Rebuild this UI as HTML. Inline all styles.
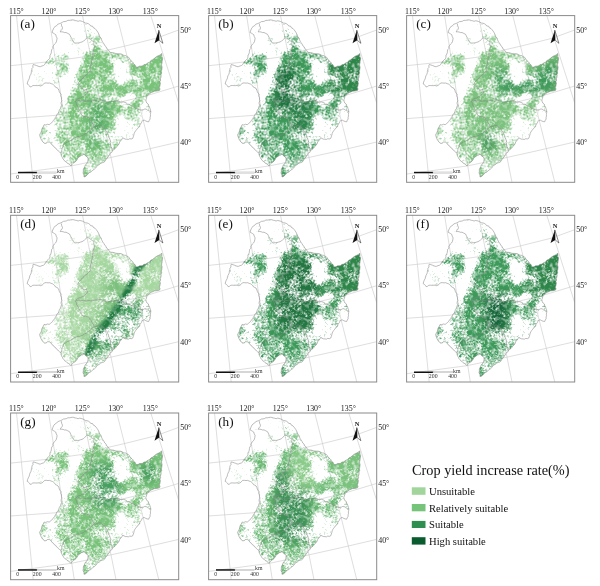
<!DOCTYPE html>
<html><head><meta charset="utf-8"><style>
html,body{margin:0;padding:0;background:#fff;width:600px;height:586px;overflow:hidden}
svg{display:block;will-change:transform}
</style></head><body>
<svg width="600" height="586" viewBox="0 0 600 586">
<defs><path id="ol" d="M52.80,30.20 L53.38,28.91 L53.97,27.62 L55,26.60 L56.52,25.76 L57.63,24.31 L59.30,23.70 L60.76,23.18 L62.15,22.47 L63.49,21.64 L65.10,21.50 L66.55,21.16 L67.89,20.35 L69.43,20.39 L70.90,20.10 L72.40,19.85 L73.85,20.04 L75.26,20.55 L76.70,20.80 L78.11,21.30 L79.65,20.78 L81.08,21.05 L82.50,21.50 L83.90,22.17 L85.24,23.02 L86.82,23.22 L88.30,23.70 L89.70,24.58 L90.70,26.01 L92.58,26.21 L93.45,27.83 L95,28.50 L96.06,29.75 L97.06,31.03 L97.96,32.37 L98.68,33.84 L99.40,35.30 L99.84,36.90 L101.13,38.08 L101.49,39.72 L102.16,41.20 L103,42.60 L104.01,43.98 L104.76,45.53 L106.07,46.72 L106.60,48.40 L107.91,49.32 L108.76,50.62 L109.50,52 L110.91,52.53 L112.42,52.63 L113.89,52.87 L115.30,53.40 L116.91,53.68 L118.56,53.75 L120.20,53.80 L121.80,54.20 L123,55.05 L124.36,55.54 L125.86,55.71 L127.05,56.59 L128.40,57.10 L129.28,58.19 L129.91,59.49 L130.92,60.47 L132,61.40 L133.03,62.43 L133.33,64.01 L134.89,64.65 L135.51,65.99 L136.30,67.20 L138,67.10 L139.53,66.16 L141.25,66.14 L142.90,65.80 L143.86,64.67 L145.39,64.48 L146.64,63.83 L147.74,62.93 L149.10,62.45 L150.10,61.40 L151.15,60.39 L152.54,59.84 L153.64,58.90 L154.79,58.02 L155.90,57.10 L157.33,56.14 L158.98,55.54 L160.49,54.70 L161.70,53.40 L161.90,55.05 L161.89,56.72 L162.66,58.30 L162.40,60 L162.10,61.43 L162.05,62.88 L161.61,64.29 L161.68,65.75 L162.11,67.23 L161.91,68.67 L161.70,70.10 L161.30,71.52 L161.70,73.08 L161.04,74.46 L161.09,75.95 L160.91,77.41 L160.30,78.80 L160.64,80.28 L159.83,81.68 L160.37,83.18 L160.15,84.62 L159.91,86.06 L159.33,87.47 L160.02,88.98 L159.50,90.40 L157.89,90.82 L156.24,91.10 L154.54,91.15 L153,91.90 L151.38,92.53 L149.91,93.39 L148.77,94.79 L147.20,95.50 L146.81,97.03 L146.40,98.54 L145.80,100 L146.18,101.62 L146.84,103.10 L148.29,104.19 L148.70,105.80 L149.53,107.14 L150,108.61 L150.53,110.06 L150.80,111.60 L150.64,113.05 L150.36,114.49 L150.51,115.98 L150.10,117.40 L150.11,119.02 L149.24,120.36 L148.70,121.80 L147.22,121.55 L145.82,120.99 L144.46,120.24 L142.90,120.30 L142,121.42 L141.42,122.73 L140.60,123.89 L139.82,125.08 L139.62,126.61 L138.50,127.60 L137.32,128.52 L136.56,129.75 L135.62,130.86 L134.82,132.06 L134.20,133.40 L133.80,135.10 L133.30,136.76 L132.70,138.40 L131.30,138.99 L129.78,138.67 L128.41,139.43 L126.90,139.20 L125.32,139.11 L123.94,138.47 L122.60,137.70 L121.91,139.32 L120.80,140.66 L119.70,142 L119.11,143.71 L118.18,145.21 L116.80,146.40 L115.95,147.75 L114.88,148.88 L113.60,149.80 L112.40,150.80 L111.90,152.25 L110.34,152.89 L109.67,154.21 L109.16,155.65 L108,156.60 L107.34,157.91 L106.40,159.01 L105.53,160.16 L104.86,161.46 L103.70,162.40 L102.09,162.81 L100.58,163.41 L99.37,164.61 L97.90,165.30 L96.69,166.49 L95.74,167.95 L94.50,169.11 L93,170 L91.85,171.12 L90.65,172.18 L89.04,172.74 L88,174 L86.87,175.27 L85.62,176.38 L84,177 L83.94,174.89 L83,173 L83.36,171.34 L83.32,169.60 L84,168 L84.79,166.77 L85.09,165.26 L86.27,164.26 L87,163 L87.80,161.43 L88.02,159.74 L88,158 L87.14,156.86 L85.83,156.17 L84.91,155.09 L84,154 L82.92,155.04 L81.36,155.27 L80.23,156.22 L79,157 L77.78,158.08 L77.13,159.61 L76.22,160.92 L75,162 L73.78,162.78 L72.66,163.66 L71.75,164.75 L71,166 L69.85,164.76 L68.52,163.75 L67,163 L66.17,161.83 L64.81,161.19 L64.01,159.99 L63,159 L62.36,157.55 L61.55,156.15 L61.05,154.65 L61,153 L59.71,152.25 L58.55,151.34 L57.67,150.07 L56.40,149.30 L55.62,147.90 L54.16,147.19 L53.41,145.76 L52,145 L50.96,143.17 L49.20,142 L47.59,142.07 L46.31,143.13 L44.80,143.50 L43.15,142.25 L41.90,140.60 L41.09,139.25 L40.52,137.81 L39.97,136.35 L39.70,134.80 L40.37,133.39 L41.17,132.04 L41.67,130.57 L41.90,129 L42.62,127.56 L43.50,126.20 L44.10,124.70 L45.80,125 L47.50,124.28 L49.20,124.70 L50.39,123.71 L51.64,122.79 L52.63,121.60 L53.50,120.30 L54.67,119.01 L55.42,117.42 L56.40,116 L56.95,114.37 L58.32,113.21 L58.90,111.60 L59.45,109.84 L60.58,108.31 L61,106.50 L61.57,105.09 L61.10,103.61 L61.20,102.17 L61.85,100.77 L61.50,99.30 L61.56,97.58 L60.84,95.93 L61,94.20 L59.97,93 L59.29,91.63 L58.90,90.10 L58.16,88.79 L57.07,87.83 L55.57,87.28 L54.80,86 L53.69,84.97 L52.49,84.09 L51.05,83.61 L49.70,83 L48,83.15 L46.30,82.95 L44.60,83 L43.45,84.30 L42.15,85.39 L40.50,86 L38.99,85.41 L37.41,85.60 L35.85,85.60 L34.30,85.50 L32.78,85.59 L31.59,86.56 L30.20,87 L29.46,85.74 L28.43,84.77 L27.20,84 L27.60,82.16 L28.30,80.44 L29.20,78.80 L29.53,77.21 L30,75.67 L30.86,74.25 L31.30,72.70 L31.40,71.28 L31.89,69.95 L31.94,68.51 L33.03,67.33 L32.82,65.83 L33.30,64.50 L34.86,64.96 L36.40,65.50 L37.75,65.95 L39.03,66.62 L40.50,66.60 L41.97,65.98 L43.50,65.50 L44.87,64.39 L45.57,62.77 L46.60,61.40 L48.07,59.97 L49.50,58.50 L49.97,57.06 L49.94,55.46 L50.79,54.13 L51.30,52.70 L51.44,51.17 L51.71,49.68 L52.91,48.47 L52.75,46.84 L53.50,45.50 L54.45,44.25 L55.61,43.17 L56.40,41.80 L56.81,40.01 L57.10,38.20 L56.24,36.46 L55.70,34.60 L54.48,33.85 L53.26,33.09 L52,32.40Z"/><clipPath id="clip"><use href="#ol"/></clipPath><clipPath id="fr"><rect x="10.6" y="15.6" width="168.1" height="166.7"/></clipPath><g id="densBase"><rect x="10" y="15" width="170" height="170" fill="#000"/><path d="M40,20 L165,20 L165,180 L40,180Z" fill="rgb(8,8,8)"/><path d="M84,30 L95,29 L100,37 L105,46 L100,50 L86,48Z" fill="rgb(31,31,31)"/><path d="M49,54 L56,51 L63,53 L68,58 L70,66 L67,72 L61,72 L59,78 L60,87 L56,87 L54,77 L51,68 L47,60Z" fill="rgb(107,107,107)"/><path d="M56,55 L64,56 L67,63 L65,70 L59,69 L56,62Z" fill="rgb(158,158,158)"/><path d="M38,126 L46,121 L52,118 L58,152 L50,145 L44,144 L38,136Z" fill="rgb(56,56,56)"/><path d="M55,121 L58,116 L62,109 L68,104 L74,112 L80,126 L90,136 L96,148 L92,156 L84,155 L79,158 L75,163 L71,167 L66,164 L62,159 L60,153 L57,148 L55,141Z" fill="rgb(112,112,112)"/><path d="M82,134 L96,136 L100,150 L92,156 L84,150Z" fill="rgb(204,204,204)"/><path d="M64,128 L82,124 L88,132 L84,138 L70,138Z" fill="rgb(148,148,148)"/><path d="M106,56 L128,58 L132,64 L132,80 L130,94 L118,96 L116,80 L112,64Z" fill="rgb(15,15,15)"/><path d="M100,48 L115,50 L128,54 L134,62 L122,60 L110,58Z" fill="rgb(128,128,128)"/><path d="M116,92 L132,92 L146,96 L150,106 L148,114 L140,118 L128,112 L120,104Z" fill="rgb(46,46,46)"/><path d="M96,128 L110,128 L118,132 L124,138 L118,146 L110,154 L104,160 L98,163 L96,150Z" fill="rgb(82,82,82)"/><path d="M90,48 L96,47 L102,49 L107,52 L111,60 L113,70 L116,82 L117,90 L116,97 L122,102 L124,108 L118,114 L114,124 L112,134 L104,140 L98,146 L96,152 L88,154 L80,150 L74,140 L70,130 L65,121 L68,108 L71,97 L74,86 L76,76 L81,64 L85,55Z" fill="rgb(204,204,204)"/><path d="M90,55 L100,54 L106,57 L109,66 L108,80 L104,84 L96,80 L88,78 L82,76 L82,62Z" fill="rgb(235,235,235)"/><path d="M76,78 L90,80 L92,100 L88,110 L78,108 L74,96Z" fill="rgb(224,224,224)"/><path d="M100,84 L112,82 L116,96 L112,122 L102,128 L94,120 L96,100Z" fill="rgb(235,235,235)"/><path d="M88,80 L101,80 L103,90 L101,98 L90,97 L87,88Z" fill="rgb(89,89,89)"/><path d="M82,132 L96,132 L100,140 L98,154 L90,156 L84,152Z" fill="rgb(209,209,209)"/><path d="M80,151 L92,153 L104,154 L113,154 L112,160 L104,168 L94,176 L86,182 L79,178 L80,166Z" fill="rgb(158,158,158)"/><path d="M131,62 L136,64 L142,62 L150,57 L156,53 L164,49 L166,60 L165,72 L163,80 L163,94 L153,95 L147,98 L140,96 L133,94 L130,84 L130,72Z" fill="rgb(235,235,235)"/><path d="M105.12,104 L113.43,100.86 L121.89,95.58 L129.26,89.26 L135.44,82.07 L140.46,76.05 L135.54,71.95 L130.56,77.93 L124.74,84.74 L118.11,90.42 L110.57,95.14 L102.88,98Z" fill="rgb(199,199,199)"/><path d="M136,79 L151,78 L152,85 L140,86Z" fill="rgb(128,128,128)"/><path d="M154,70 L161,70 L161,79 L155,79Z" fill="rgb(128,128,128)"/><path d="M138.50,105.50 L137.64,108.15 L135.39,109.78 L132.61,109.78 L130.36,108.15 L129.50,105.50 L130.36,102.85 L132.61,101.22 L135.39,101.22 L137.64,102.85Z" fill="rgb(217,217,217)"/><path d="M132.50,116.50 L131.83,118.56 L130.08,119.83 L127.92,119.83 L126.17,118.56 L125.50,116.50 L126.17,114.44 L127.92,113.17 L130.08,113.17 L131.83,114.44Z" fill="rgb(204,204,204)"/><path d="M142.50,122 L141.83,124.06 L140.08,125.33 L137.92,125.33 L136.17,124.06 L135.50,122 L136.17,119.94 L137.92,118.67 L140.08,118.67 L141.83,119.94Z" fill="rgb(204,204,204)"/><path d="M152,106.50 L151.43,108.26 L149.93,109.35 L148.07,109.35 L146.57,108.26 L146,106.50 L146.57,104.74 L148.07,103.65 L149.93,103.65 L151.43,104.74Z" fill="rgb(178,178,178)"/><path d="M133.50,126 L133.02,127.47 L131.77,128.38 L130.23,128.38 L128.98,127.47 L128.50,126 L128.98,124.53 L130.23,123.62 L131.77,123.62 L133.02,124.53Z" fill="rgb(178,178,178)"/></g><filter id="dith" filterUnits="userSpaceOnUse" x="10" y="15" width="170" height="170" color-interpolation-filters="sRGB">
<feGaussianBlur in="SourceGraphic" stdDeviation="2.2" result="bl"/>
<feComponentTransfer in="bl" result="bl2"><feFuncR type="table" tableValues="0.000 0.317 0.435 0.495 0.577 0.643 0.695 0.767 0.833 0.940 1.000"/></feComponentTransfer>
<feColorMatrix in="bl2" type="matrix" values="0 0 0 0 0  0 0 0 0 0  0 0 0 0 0  1.15 0 0 0 -0.12" result="da"/>
<feTurbulence type="fractalNoise" baseFrequency="0.085" numOctaves="3" seed="5" result="n1"/>
<feTurbulence type="fractalNoise" baseFrequency="0.5" numOctaves="2" seed="9" result="n2"/>
<feColorMatrix in="n1" type="matrix" values="0 0 0 0 0  0 0 0 0 0  0 0 0 0 0  1 0 0 0 0" result="a1"/>
<feColorMatrix in="n2" type="matrix" values="0 0 0 0 0  0 0 0 0 0  0 0 0 0 0  1 0 0 0 0" result="a2"/>
<feComposite in="a1" in2="a2" operator="arithmetic" k1="0" k2="1.4" k3="1.25" k4="-0.82" result="na"/>
<feComposite in="da" in2="na" operator="arithmetic" k1="0" k2="1.7" k3="-1.7" k4="0.3" result="t"/>
<feFlood flood-color="#fff"/>
<feComposite in2="t" operator="in" result="w"/>
<feGaussianBlur in="w" stdDeviation="0.5"/>
</filter><filter id="lite" filterUnits="userSpaceOnUse" x="10" y="15" width="170" height="170" color-interpolation-filters="sRGB"><feTurbulence type="fractalNoise" baseFrequency="0.22" numOctaves="2" seed="3"/><feColorMatrix type="matrix" values="0 0 0 0 1  0 0 0 0 1  0 0 0 0 1  2.2 0 0 0 -1.05"/></filter><filter id="cb2" filterUnits="userSpaceOnUse" x="10" y="15" width="170" height="170"><feGaussianBlur stdDeviation="1.1"/></filter><filter id="cb" filterUnits="userSpaceOnUse" x="10" y="15" width="170" height="170"><feGaussianBlur stdDeviation="5"/></filter><mask id="dm_a" maskUnits="userSpaceOnUse" x="10" y="15" width="170" height="170"><g filter="url(#dith)"><use href="#densBase"/><path d="M49,54 L56,51 L63,53 L68,58 L70,66 L67,72 L61,72 L59,78 L60,87 L56,87 L54,77 L51,68 L47,60Z" fill="rgb(76,76,76)"/></g></mask><mask id="dm_b" maskUnits="userSpaceOnUse" x="10" y="15" width="170" height="170"><g filter="url(#dith)"><use href="#densBase"/></g></mask><mask id="dm_c" maskUnits="userSpaceOnUse" x="10" y="15" width="170" height="170"><g filter="url(#dith)"><use href="#densBase"/></g></mask><mask id="dm_d" maskUnits="userSpaceOnUse" x="10" y="15" width="170" height="170"><g filter="url(#dith)"><use href="#densBase"/><path d="M90,50 L100,50 L107,54 L112,62 L118,72 L124,84 L122,96 L114,110 L106,120 L96,122 L84,118 L76,106 L74,90 L80,64Z" fill="rgb(219,219,219)"/><path d="M100,130 L112,114 L122,100 L130,96 L148,104 L152,112 L150,122 L138,128 L128,140 L116,150 L108,158 L100,166 L88,174 L84,166Z" fill="rgb(102,102,102)"/><path d="M148.06,55.09 L141.78,59.29 L136.03,65.15 L130.81,76.55 L125.88,87.42 L118,101.89 L109.88,113.93 L101.77,124.02 L93.45,134.52 L87.04,147.19 L83.79,154.59 L90.21,157.41 L93.36,150.21 L99.35,138.28 L107.23,128.38 L115.52,118.07 L124,105.51 L132.12,90.58 L137.19,79.45 L141.97,68.85 L146.22,64.71 L151.94,60.91Z" fill="rgb(230,230,230)"/></g></mask><mask id="dm_e" maskUnits="userSpaceOnUse" x="10" y="15" width="170" height="170"><g filter="url(#dith)"><use href="#densBase"/></g></mask><mask id="dm_f" maskUnits="userSpaceOnUse" x="10" y="15" width="170" height="170"><g filter="url(#dith)"><use href="#densBase"/></g></mask><mask id="dm_g" maskUnits="userSpaceOnUse" x="10" y="15" width="170" height="170"><g filter="url(#dith)"><use href="#densBase"/></g></mask><mask id="dm_h" maskUnits="userSpaceOnUse" x="10" y="15" width="170" height="170"><g filter="url(#dith)"><use href="#densBase"/></g></mask><g id="deco">
<g clip-path="url(#fr)" stroke="#c8c8c8" stroke-width="0.6" fill="none"><path d="M16.50,15.60 L33.20,182.30"/><path d="M48.60,15.60 L74.30,182.30"/><path d="M82.50,15.60 L116,182.30"/><path d="M116.80,15.60 L158.80,182.30"/><path d="M150.80,15.60 L178.70,103"/><path d="M10.60,65.70 L49.20,61.70 L82.50,57 L106.70,50.30 L124,46.30 L140,42.30 L156,38.30 L178.70,30"/><path d="M10.60,118.60 L55.30,115.40 L100,107 L145.70,96 L178.70,86"/><path d="M10.60,174 L70.90,166 L95,161 L140,151 L178.70,142"/></g>
<rect x="10.6" y="15.6" width="168.1" height="166.7" fill="none" stroke="#8a8a8a" stroke-width="1"/>
<g font-family="Liberation Serif, serif" font-size="7.9" fill="#222">
<text x="16.4" y="13.8" text-anchor="middle">115°</text>
<text x="49" y="13.8" text-anchor="middle">120°</text>
<text x="82.3" y="13.8" text-anchor="middle">125°</text>
<text x="115.7" y="13.8" text-anchor="middle">130°</text>
<text x="150.3" y="13.8" text-anchor="middle">135°</text>
<text x="180.2" y="32.5">50°</text>
<text x="180.2" y="88.8">45°</text>
<text x="180.2" y="145.2">40°</text>
</g>
<text x="159" y="28.2" font-family="Liberation Serif, serif" font-weight="bold" font-size="6.4" text-anchor="middle" fill="#111">N</text>
<path d="M158.8,30.2 L154.5,43.3 L159.2,40.2 Z" fill="#111"/>
<path d="M158.8,30.2 L162.9,43.3 L159.2,40.2 Z" fill="#fff" stroke="#111" stroke-width="0.5"/>
<rect x="18" y="171.8" width="19" height="1.5" fill="#111"/>
<rect x="37" y="172" width="19.5" height="1.1" fill="#fff" stroke="#999" stroke-width="0.4"/>
<g font-family="Liberation Serif, serif" font-size="5.8" fill="#333">
<text x="57" y="173">km</text>
<text x="17.8" y="178.6" text-anchor="middle">0</text>
<text x="37.2" y="178.6" text-anchor="middle">200</text>
<text x="56.5" y="178.6" text-anchor="middle">400</text>
</g></g><g id="lines" fill="none" stroke="#858585" stroke-width="0.55"><path d="M61.30,23.80 L61.65,25.87 L62.50,27.80 L62.04,29.34 L60.92,30.51 L60.20,31.90 L61.67,31.82 L63.12,32 L64.52,32.59 L66,32.50 L67.75,33.41 L69.50,34.30 L70.22,35.66 L70.83,37.08 L71.80,38.30 L72.27,40.04 L73.45,41.41 L74.20,43 L75.73,43.10 L77.27,43 L78.80,43 L80.37,42.41 L82,41.96 L83.50,41.20 L84.64,40.04 L85.85,38.95 L87,37.80 L89.30,38.30 L90.49,39.16 L91.41,40.37 L92.72,41.07 L94,41.80 L93.80,43.33 L93.87,44.84 L94.40,46.30 L94.31,47.73 L93.75,49.06 L93.11,50.37 L92.90,51.77 L93.22,53.29 L92.60,54.60 L92.63,56.26 L92.05,57.81 L92.08,59.47 L91.63,61.04 L91.48,62.67 L90.80,64.20 L90.53,65.63 L90.31,67.06 L90.08,68.49 L90.63,69.99 L90.20,71.40 L89.01,72.19 L87.98,73.17 L87.23,74.46 L85.73,74.90 L84.90,76.10 L83.60,76.80 L83.08,78.28 L81.61,78.81 L80.96,80.16 L79.91,81.11 L78.90,82.10 L77.70,84.50 L78.66,85.67 L79.93,86.35 L81.30,86.90 L82.35,87.93 L82.95,89.27 L83.70,90.50 L85.21,89.91 L86.70,89.30 L87.14,91.08 L87.30,92.90 L86.29,94.26 L85.01,95.35 L83.70,96.40 L82.13,96.81 L80.86,98 L79.18,98.15 L77.70,98.80 L76.54,100.04 L75.30,101.20 L76.31,102.86 L76.50,104.80 L77.63,106.32 L78.50,108 L79.07,109.35 L79.82,110.61 L80.85,111.72 L80.78,113.40 L81.60,114.62 L82.50,115.80 L83.78,116.68 L85.45,116.42 L86.83,117.04 L88.31,117.33 L89.60,118.20 L90.18,119.91 L91.38,121.31 L92,123 L93.08,124.02 L93.66,125.36 L94.40,126.60 L95.97,126.66 L97.46,126.28 L98.86,125.49 L100.40,125.40 L101.79,126.05 L102.57,127.50 L103.96,128.15 L105.20,129 L105.84,130.65 L107.13,131.97 L107.60,133.70 L108.57,135.05 L108.64,136.76 L109.46,138.18 L110,139.70 L110.60,141.08 L110.05,142.64 L110.54,144.04 L110.61,145.50 L111.10,146.90 L112.11,148.73 L112.40,150.80"/><path d="M76,100.50 L77.46,100.89 L78.98,100.25 L80.42,101.04 L81.92,100.74 L83.41,100.71 L84.88,100.97 L86.34,101.37 L87.85,100.85 L89.34,100.80 L90.80,101.20 L92.40,101.02 L93.97,100.57 L95.56,100.25 L97.16,100.10 L98.75,99.80 L100.40,100 L101.92,100.23 L103.33,100.80 L104.78,101.27 L106.09,102.14 L107.60,102.40 L108.99,101.97 L110.44,101.92 L111.81,101.39 L113.26,101.30 L114.70,101.20 L116.22,100.94 L117.67,101.32 L119.16,101.28 L120.56,102.09 L122.05,102.10 L123.56,101.95 L125,102.40 L126.41,103.10 L127.62,104.19 L129.36,104.24 L130.47,105.54 L132,106 L133.36,106.61 L134.67,107.33 L135.87,108.27 L137.38,108.58 L138.66,109.34 L140,110 L141.53,109.92 L143.07,109.93 L144.48,109.11 L146,109 L147.46,110.13 L149.11,110.90 L150.80,111.60"/><path d="M94.40,126.60 L93.12,127.46 L92.05,128.59 L90.89,129.59 L89.85,130.75 L88.40,131.40 L87.43,132.56 L86.28,133.51 L84.74,133.93 L83.70,135 L82.33,135.67 L80.91,136.21 L79.49,136.74 L77.85,136.55 L76.50,137.30 L74.75,137.80 L73.23,138.76 L71.70,139.70 L70.19,140.68 L68.60,141.51 L66.90,142.10 L65.84,143.05 L64.59,143.73 L63.40,144.50 L63.09,146.40 L62.20,148.10 L61.85,149.74 L61.61,151.42 L61,153"/><use href="#ol"/></g></defs>
<g transform="translate(0,0)"><use href="#deco"/><g clip-path="url(#clip)"><g mask="url(#dm_a)"><g filter="url(#cb)"><rect x="10" y="15" width="170" height="170" fill="#78c27a"/><path d="M90,100 L110,98 L106,140 L88,150Z" fill="#5aae68"/></g><rect x="10" y="15" width="170" height="170" fill="#fff" filter="url(#lite)" opacity="0.75"/></g></g><use href="#lines"/><text x="20.2" y="28.4" font-family="Liberation Serif, serif" font-size="13.2" fill="#111">(a)</text></g><g transform="translate(198,0)"><use href="#deco"/><g clip-path="url(#clip)"><g mask="url(#dm_b)"><g filter="url(#cb)"><rect x="10" y="15" width="170" height="170" fill="#3e9a5a"/><path d="M130,60 L166,48 L166,96 L130,96Z" fill="#2d8549"/><path d="M74,68 L98,66 L100,112 L78,112Z" fill="#1f713e"/><path d="M96,100 L116,90 L112,130 L96,135Z" fill="#2a8048"/></g><rect x="10" y="15" width="170" height="170" fill="#fff" filter="url(#lite)" opacity="0.75"/></g></g><use href="#lines"/><text x="20.2" y="28.4" font-family="Liberation Serif, serif" font-size="13.2" fill="#111">(b)</text></g><g transform="translate(396,0)"><use href="#deco"/><g clip-path="url(#clip)"><g mask="url(#dm_c)"><g filter="url(#cb)"><rect x="10" y="15" width="170" height="170" fill="#7cc27e"/><path d="M96,66 L116,70 L118,92 L112,100 L100,96Z" fill="#4aa262"/><path d="M108,80 L130,76 L158,58 L164,64 L160,94 L132,96 L112,96Z" fill="#3f9a5a"/><path d="M86,132 L100,132 L98,152 L86,152Z" fill="#3a9455"/></g><rect x="10" y="15" width="170" height="170" fill="#fff" filter="url(#lite)" opacity="0.75"/></g></g><use href="#lines"/><text x="20.2" y="28.4" font-family="Liberation Serif, serif" font-size="13.2" fill="#111">(c)</text></g><g transform="translate(0,199.7)"><use href="#deco"/><g clip-path="url(#clip)"><g mask="url(#dm_d)"><g filter="url(#cb)"><rect x="10" y="15" width="170" height="170" fill="#a6d7a1"/><path d="M106,71 L127,80 L130,90 L121,104 L112,116 L104,126 L96,136 L90,148 L84,146 L92,128 L100,112 L104,96Z" fill="#7cc07d"/><path d="M100,130 L112,114 L122,100 L130,96 L148,104 L152,112 L150,122 L138,128 L128,140 L116,150 L108,158 L100,166 L88,174 L84,166Z" fill="#3f9a5a"/><path d="M80,150 L112,150 L104,166 L86,182 L80,170Z" fill="#5aae6a"/></g><path d="M148.06,55.09 L141.78,59.29 L136.03,65.15 L130.81,76.55 L125.88,87.42 L118,101.89 L109.88,113.93 L101.77,124.02 L93.45,134.52 L87.04,147.19 L83.79,154.59 L90.21,157.41 L93.36,150.21 L99.35,138.28 L107.23,128.38 L115.52,118.07 L124,105.51 L132.12,90.58 L137.19,79.45 L141.97,68.85 L146.22,64.71 L151.94,60.91Z" fill="#247b43" filter="url(#cb2)"/><rect x="10" y="15" width="170" height="170" fill="#fff" filter="url(#lite)" opacity="0.45"/></g></g><use href="#lines"/><text x="20.2" y="28.4" font-family="Liberation Serif, serif" font-size="13.2" fill="#111">(d)</text></g><g transform="translate(198,199.7)"><use href="#deco"/><g clip-path="url(#clip)"><g mask="url(#dm_e)"><g filter="url(#cb)"><rect x="10" y="15" width="170" height="170" fill="#3e9a5a"/><path d="M130,60 L166,48 L166,96 L130,96Z" fill="#2d8549"/><path d="M78,56 L122,56 L122,132 L78,132Z" fill="#21743f"/></g><rect x="10" y="15" width="170" height="170" fill="#fff" filter="url(#lite)" opacity="0.75"/></g></g><use href="#lines"/><text x="20.2" y="28.4" font-family="Liberation Serif, serif" font-size="13.2" fill="#111">(e)</text></g><g transform="translate(396,199.7)"><use href="#deco"/><g clip-path="url(#clip)"><g mask="url(#dm_f)"><g filter="url(#cb)"><rect x="10" y="15" width="170" height="170" fill="#3e9a5a"/><path d="M130,60 L166,48 L166,96 L130,96Z" fill="#2d8549"/><path d="M90,94 L112,94 L112,132 L90,132Z" fill="#17663a"/></g><rect x="10" y="15" width="170" height="170" fill="#fff" filter="url(#lite)" opacity="0.75"/></g></g><use href="#lines"/><text x="20.2" y="28.4" font-family="Liberation Serif, serif" font-size="13.2" fill="#111">(f)</text></g><g transform="translate(0,397.4)"><use href="#deco"/><g clip-path="url(#clip)"><g mask="url(#dm_g)"><g filter="url(#cb)"><rect x="10" y="15" width="170" height="170" fill="#78c27a"/><path d="M90,66 L122,66 L120,110 L92,110Z" fill="#4a9f60"/><path d="M140,66 L156,66 L156,84 L140,84Z" fill="#3f9a5a"/></g><rect x="10" y="15" width="170" height="170" fill="#fff" filter="url(#lite)" opacity="0.75"/></g></g><use href="#lines"/><text x="20.2" y="28.4" font-family="Liberation Serif, serif" font-size="13.2" fill="#111">(g)</text></g><g transform="translate(198,397.4)"><use href="#deco"/><g clip-path="url(#clip)"><g mask="url(#dm_h)"><g filter="url(#cb)"><rect x="10" y="15" width="170" height="170" fill="#68b872"/><path d="M76,72 L112,72 L112,146 L76,146Z" fill="#3a9055"/><path d="M92,52 L122,52 L122,92 L92,92Z" fill="#8acb8a"/><path d="M132,55 L166,50 L166,95 L132,95Z" fill="#7cc27e"/></g><rect x="10" y="15" width="170" height="170" fill="#fff" filter="url(#lite)" opacity="0.75"/></g></g><use href="#lines"/><text x="20.2" y="28.4" font-family="Liberation Serif, serif" font-size="13.2" fill="#111">(h)</text></g>
<g font-family="Liberation Serif, serif" fill="#111">
<text x="412" y="475.4" font-size="14.5" textLength="157.5" lengthAdjust="spacingAndGlyphs">Crop yield increase rate(%)</text>
<rect x="411.8" y="487.3" width="13.7" height="7.5" fill="#a1d59b"/>
<rect x="411.8" y="504" width="13.7" height="7.3" fill="#76c47a"/>
<rect x="411.8" y="520.9" width="13.7" height="7.1" fill="#2e8f50"/>
<rect x="411.8" y="537.2" width="13.7" height="7.4" fill="#0a5c2e"/>
<g font-size="10.6">
<text x="429" y="494.8">Unsuitable</text>
<text x="429" y="511.6">Relatively suitable</text>
<text x="429" y="528.3">Suitable</text>
<text x="429" y="544.9">High suitable</text>
</g></g>
</svg>
</body></html>
